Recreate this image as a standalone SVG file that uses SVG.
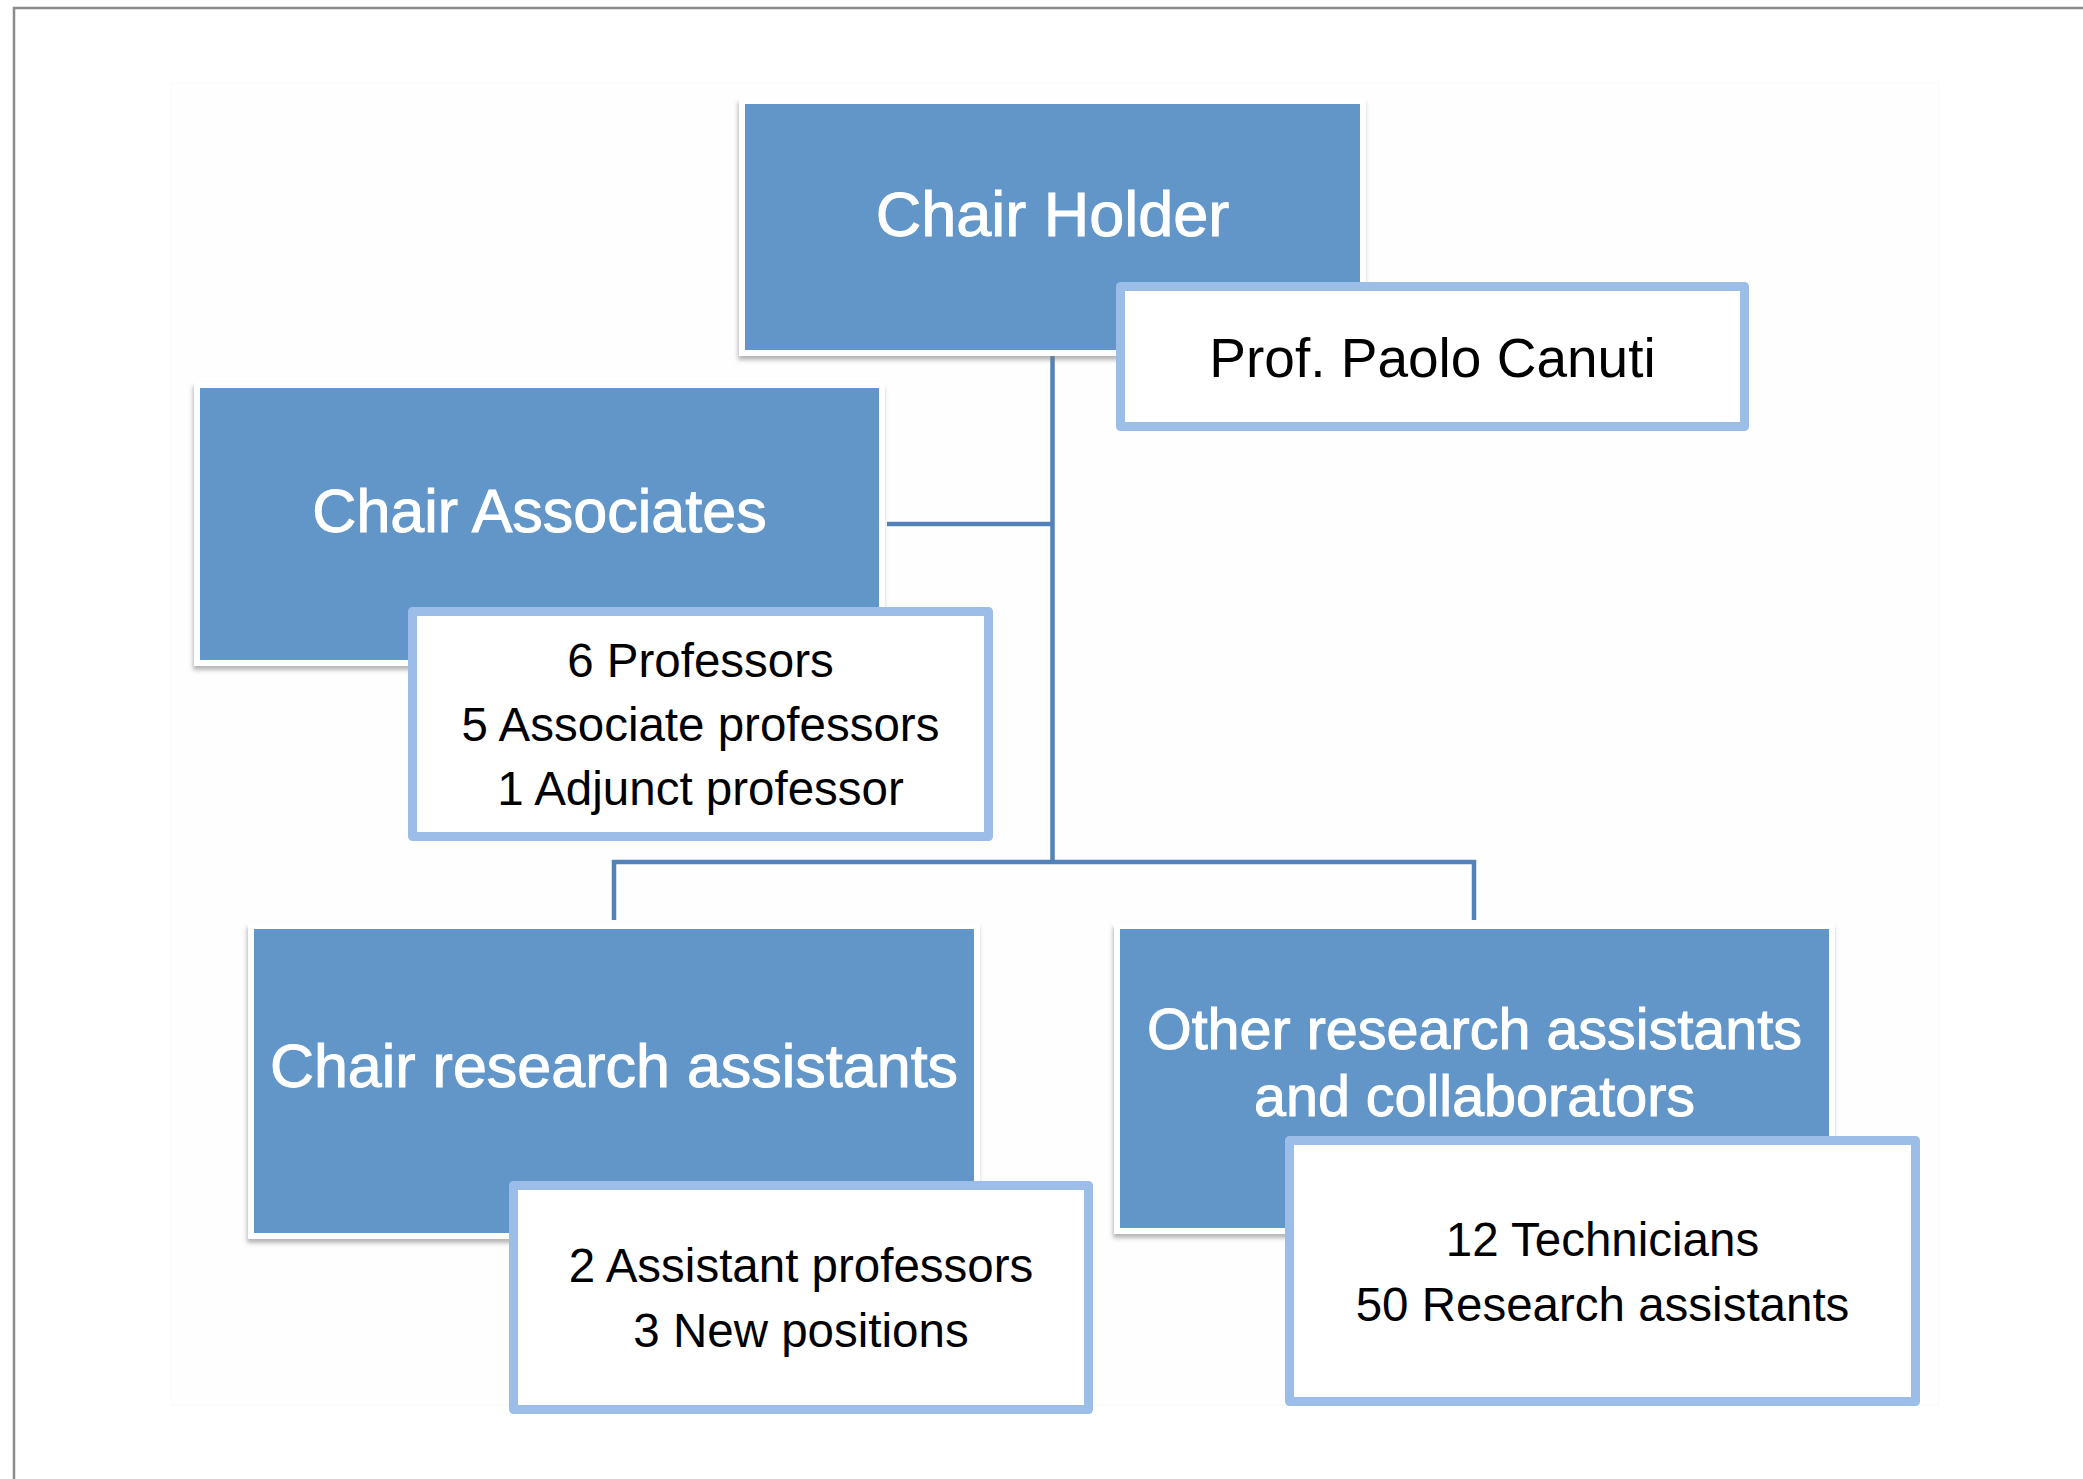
<svg xmlns="http://www.w3.org/2000/svg" width="2083" height="1479" viewBox="0 0 2083 1479">
  <style>
    .blue { fill: #6396c8; }
    .pad { fill: #ffffff; filter: url(#shadow); }
    .detail { fill: #ffffff; stroke: #9dbde9; stroke-width: 9; stroke-linejoin: round; }
    .head { font-family: "Liberation Sans", Arial, sans-serif; fill: #ffffff; stroke: #ffffff; stroke-width: 1; text-anchor: middle; }
    .body { font-family: "Liberation Sans", Arial, sans-serif; fill: #000000; text-anchor: middle; font-size: 47.5px; }
    .conn { fill: none; stroke: #5282b7; stroke-width: 4.5; }
  </style>
  <defs>
    <filter id="shadow" x="-5%" y="-5%" width="110%" height="115%">
      <feDropShadow dx="-1" dy="4" stdDeviation="2" flood-color="#7a7a7a" flood-opacity="0.55"/>
    </filter>
  </defs>
  <rect x="0" y="0" width="2083" height="1479" fill="#ffffff"/>
  <path d="M14 1479 V8 H2083" fill="none" stroke="#8c8c8c" stroke-width="2.5"/>
  <rect x="171" y="83" width="1768" height="1322" fill="#fefefe" stroke="#f9f9f9" stroke-width="1"/>

  <g id="connectors">
    <path class="conn" d="M1052.5 354 V862"/>
    <path class="conn" d="M887 524 H1052.5"/>
    <path class="conn" d="M614 920 V862 H1474 V920"/>
  </g>

  <g id="chair-holder">
    <rect class="pad" x="739" y="98" width="627" height="258"/>
    <rect class="blue" x="745" y="104" width="615" height="246"/>
    <text class="head" x="1052.5" y="236" font-size="63">Chair Holder</text>
  </g>
  <g id="chair-holder-detail">
    <rect class="detail" x="1120.5" y="286.5" width="624" height="140"/>
    <text class="body" x="1432.5" y="377" style="font-size:55px">Prof. Paolo Canuti</text>
  </g>

  <g id="chair-associates">
    <rect class="pad" x="194" y="382" width="691" height="284"/>
    <rect class="blue" x="200" y="388" width="679" height="272"/>
    <text class="head" x="539.5" y="532" font-size="61">Chair Associates</text>
  </g>
  <g id="chair-associates-detail">
    <rect class="detail" x="412.5" y="611.5" width="576" height="225"/>
    <text class="body" x="700.5" y="677">6 Professors</text>
    <text class="body" x="700.5" y="741">5 Associate professors</text>
    <text class="body" x="700.5" y="805">1 Adjunct professor</text>
  </g>

  <g id="chair-research-assistants">
    <rect class="pad" x="248" y="923" width="732" height="316"/>
    <rect class="blue" x="254" y="929" width="720" height="304"/>
    <text class="head" x="614" y="1087" font-size="61">Chair research assistants</text>
  </g>
  <g id="chair-research-assistants-detail">
    <rect class="detail" x="513.5" y="1185.5" width="575" height="224"/>
    <text class="body" x="801" y="1282">2 Assistant professors</text>
    <text class="body" x="801" y="1347">3 New positions</text>
  </g>

  <g id="other-research-assistants">
    <rect class="pad" x="1114" y="923" width="721" height="311"/>
    <rect class="blue" x="1120" y="929" width="709" height="299"/>
    <text class="head" x="1474.5" y="1049" font-size="57.5">Other research assistants</text>
    <text class="head" x="1474.5" y="1116" font-size="57.5">and collaborators</text>
  </g>
  <g id="other-research-assistants-detail">
    <rect class="detail" x="1289.5" y="1140.5" width="626" height="261"/>
    <text class="body" x="1602.5" y="1256">12 Technicians</text>
    <text class="body" x="1602.5" y="1321">50 Research assistants</text>
  </g>
</svg>
